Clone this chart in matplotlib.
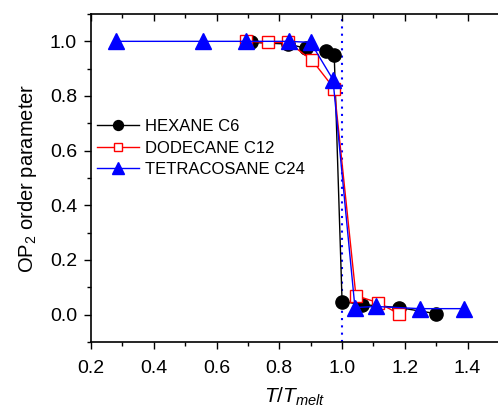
import matplotlib
matplotlib.use("Agg")
import matplotlib.pyplot as plt
from matplotlib.ticker import MultipleLocator

plt.rcParams["font.family"] = ["Liberation Sans", "DejaVu Sans"]
plt.rcParams["mathtext.fontset"] = "custom"
plt.rcParams["mathtext.rm"] = "Liberation Sans"
plt.rcParams["mathtext.it"] = "Liberation Sans:italic"

# values
hex_x = [0.711, 0.829, 0.886, 0.949, 0.975, 1.0, 1.064, 1.18, 1.298]
hex_y = [0.996, 0.99, 0.974, 0.963, 0.949, 0.048, 0.037, 0.026, 0.004]

dod_x = [0.695, 0.765, 0.829, 0.905, 0.975, 1.044, 1.114, 1.18]
dod_y = [1.0, 0.996, 0.996, 0.93, 0.827, 0.07, 0.044, 0.004]

tet_x = [0.279, 0.556, 0.695, 0.832, 0.90, 0.971, 1.041, 1.108, 1.248, 1.387]
tet_y = [1.0, 1.0, 1.0, 1.0, 0.996, 0.86, 0.026, 0.03, 0.022, 0.022]

labels = ["HEXANE C6", "DODECANE C12", "TETRACOSANE C24"]

fig = plt.figure(figsize=(4.98, 4.13), dpi=100)
ax = fig.add_axes([91 / 498, 71 / 413, 408 / 498, 328 / 413])

ax.axvline(1.0, color="blue", linestyle=(0, (1, 2.5)), linewidth=1.5, zorder=1)

ax.plot(hex_x, hex_y, "-o", color="black", lw=1, ms=9.5,
        mfc="black", mec="black", label=labels[0], zorder=3)
ax.plot(dod_x, dod_y, "-s", color="red", lw=1, ms=8,
        mfc="white", mec="red", mew=1, label=labels[1], zorder=4)
ax.plot(tet_x, tet_y, "-^", color="blue", lw=1, ms=11,
        mfc="blue", mec="blue", label=labels[2], zorder=5)

ax.set_xlim(0.2, 1.5)
ax.set_ylim(-0.1, 1.1)
ax.xaxis.set_major_locator(MultipleLocator(0.2))
ax.xaxis.set_minor_locator(MultipleLocator(0.1))
ax.yaxis.set_major_locator(MultipleLocator(0.2))
ax.yaxis.set_minor_locator(MultipleLocator(0.1))
ax.xaxis.set_major_formatter(plt.FormatStrFormatter("%.1f"))
ax.yaxis.set_major_formatter(plt.FormatStrFormatter("%.1f"))

ax.spines["right"].set_visible(False)
for s in ["left", "bottom", "top"]:
    ax.spines[s].set_linewidth(1.2)

ax.tick_params(axis="both", which="major", direction="out", length=5,
               width=1, labelsize=14)
ax.tick_params(axis="both", which="minor", direction="out", length=3, width=1)
ax.tick_params(axis="x", which="major", pad=8)
ax.tick_params(axis="y", which="major", pad=5)
ax.tick_params(axis="x", which="both", top=True)
# ticks on the top spine point inward
for t in ax.xaxis.get_major_ticks() + ax.xaxis.get_minor_ticks():
    t.tick2line.set_marker(3)

ax.set_xlabel(r"$T/T_{melt}$", fontsize=15, labelpad=6)
ax.set_ylabel(r"OP$_2$ order parameter", fontsize=14.5, labelpad=8)

ax.legend(loc="upper left", bbox_to_anchor=(0.015, 0.68), frameon=False,
          fontsize=12, handlelength=2.5, handletextpad=0.4,
          labelspacing=0.4, borderpad=0, borderaxespad=0, markerscale=0.75)

fig.savefig("out.png", dpi=100)
